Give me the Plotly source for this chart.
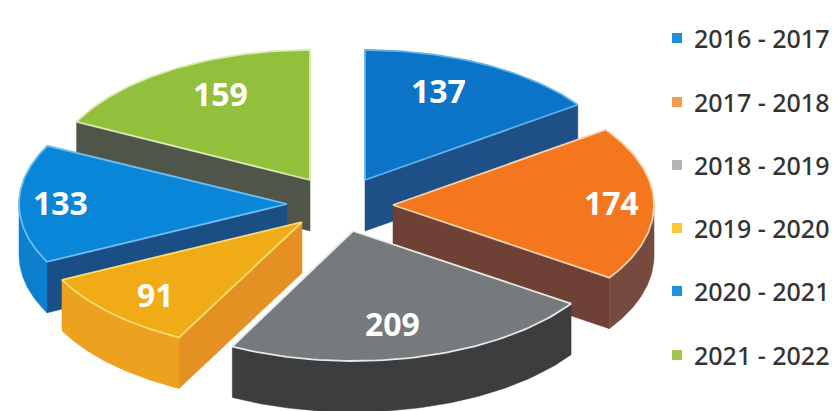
import numpy as np
import plotly.graph_objects as go

# Data
seasons = ["2016 - 2017", "2017 - 2018", "2018 - 2019", "2019 - 2020", "2020 - 2021", "2021 - 2022"]
admissions = [137, 174, 209, 91, 133, 159]
legend_colors = ["#1b8fdc", "#f79a4b", "#b4b4b4", "#f9c933", "#1b94e0", "#9fc84e"]

# Style per wedge
top_colors = ["#0b74c6", "#f4771f", "#777a7c", "#f1ab17", "#0a86d8", "#93c03c"]
edge_colors = ["#5fb4ee", "#fbd2ae", "#e8e8e8", "#fbdc70", "#6cbdf0", "#d6ecb0"]
cut_colors = ["#1e4f86", "#6e4036", "#3b3d3e", "#e59022", "#1a4f86", "#4f5649"]
rim_colors = ["#1e4f86", "#774a3f", "#3b3d3e", "#eca11f", "#0c7fcf", "#4f5649"]
apex_px = [(365, 180), (393, 205), (353, 231), (302, 222), (287, 204), (310, 180)]
radius_x = [261, 261, 263, 268, 268, 261]
label_px = [(438, 90), (611, 202), (392, 323), (155, 294), (60, 202), (220, 93)]
legend_y_px = [38, 102, 165, 228, 291, 355]
RY, DEPTH = 130, 51
BODY_MARGIN = 8  # the page's default body margin

total = sum(admissions)
edges = np.concatenate([[0], np.cumsum(admissions)]) / total * 2 * np.pi


def rim(cx, cy, rx, a0, a1, dy=0, n=60):
    t = np.linspace(a0, a1, n)
    return cx + rx * np.sin(t), cy - RY * np.cos(t) + dy


def closed(x, y):
    return list(x) + [x[0]], list(y) + [y[0]]


fig = go.Figure()

# painter's order: back to front
order = [0, 5, 4, 1, 3, 2]


def poly(x, y, fill, line=None, width=0):
    x, y = closed(x, y)
    fig.add_trace(go.Scatter(
        x=x, y=y, mode="lines", fill="toself", fillcolor=fill,
        line=dict(color=line or fill, width=width if line else 0.5),
        hoverinfo="skip", showlegend=False))


for i in order:
    a0, a1 = edges[i], edges[i + 1]
    cx, cy = apex_px[i]
    rx = radius_x[i]
    # cut faces that look toward the viewer
    for a, visible in ((a0, np.pi < a0 < 2 * np.pi), (a1, 0 < a1 < np.pi)):
        if visible:
            ex = cx + rx * np.sin(a)
            ey = cy - RY * np.cos(a)
            poly([cx, ex, ex, cx], [cy, ey, ey + DEPTH, cy + DEPTH], cut_colors[i])
    # front rim
    lo, hi = max(a0, np.pi / 2), min(a1, 3 * np.pi / 2)
    if hi > lo:
        xt, yt = rim(cx, cy, rx, lo, hi)
        xb, yb = rim(cx, cy, rx, lo, hi, DEPTH)
        poly(np.r_[xt, xb[::-1]], np.r_[yt, yb[::-1]], rim_colors[i])
    # top face
    xt, yt = rim(cx, cy, rx, a0, a1)
    poly(np.r_[cx, xt], np.r_[cy, yt], top_colors[i], edge_colors[i], 1.8)

# Legend keys and names
for name, col, ly in zip(seasons, legend_colors, legend_y_px):
    fig.add_trace(go.Scatter(
        x=[677], y=[ly], mode="markers", name=name, showlegend=False,
        marker=dict(symbol="square", size=10, color=col), hoverinfo="skip"))
    fig.add_annotation(x=692, y=ly, text=name, showarrow=False, xanchor="left",
                       font=dict(family="Noto Sans", size=25, color="#333333", weight=500))

for v, (lx, ly) in zip(admissions, label_px):
    fig.add_annotation(x=lx, y=ly, text=f"<b>{v}</b>", showarrow=False,
                       font=dict(family="Noto Sans", size=32, color="white"))

fig.update_layout(
    width=838 - BODY_MARGIN, height=411 - BODY_MARGIN,
    margin=dict(l=0, r=0, t=0, b=0),
    paper_bgcolor="white", plot_bgcolor="white", showlegend=False,
    xaxis=dict(range=[BODY_MARGIN, 838], visible=False, fixedrange=True),
    yaxis=dict(range=[411, BODY_MARGIN], visible=False, fixedrange=True),
)
fig.write_html("out.html")
